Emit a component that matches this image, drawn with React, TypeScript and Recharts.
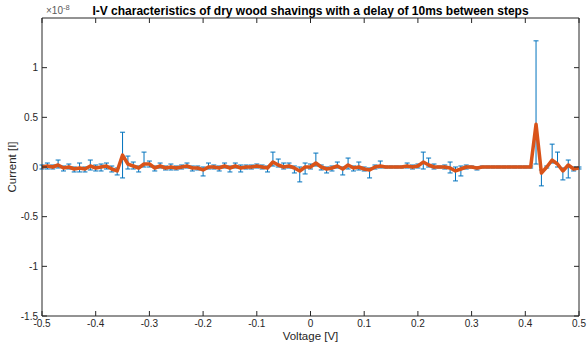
import React from 'react';
import { ComposedChart, Line, XAxis, YAxis, ErrorBar, ReferenceLine } from 'recharts';

// voltage steps [V]
const voltage = [
  -0.5, -0.49, -0.48, -0.47, -0.46, -0.45, -0.44, -0.43, -0.42, -0.41,
  -0.4, -0.39, -0.38, -0.37, -0.36, -0.35, -0.34, -0.33, -0.32, -0.31,
  -0.3, -0.29, -0.28, -0.27, -0.26, -0.25, -0.24, -0.23, -0.22, -0.21,
  -0.2, -0.19, -0.18, -0.17, -0.16, -0.15, -0.14, -0.13, -0.12, -0.11,
  -0.1, -0.09, -0.08, -0.07, -0.06, -0.05, -0.04, -0.03, -0.02, -0.01,
  0, 0.01, 0.02, 0.03, 0.04, 0.05, 0.06, 0.07, 0.08, 0.09,
  0.1, 0.11, 0.12, 0.13, 0.14, 0.15, 0.16, 0.17, 0.18, 0.19,
  0.2, 0.21, 0.22, 0.23, 0.24, 0.25, 0.26, 0.27, 0.28, 0.29,
  0.3, 0.31, 0.32, 0.33, 0.34, 0.35, 0.36, 0.37, 0.38, 0.39,
  0.4, 0.41, 0.42, 0.43, 0.44, 0.45, 0.46, 0.47, 0.48, 0.49,
  0.5,
];

// mean current, in units of 1e-8 A
const current = [
  0.0, 0.01, 0.0, 0.02, -0.01, 0.0, -0.02, -0.01, -0.02, 0.01,
  -0.01, 0.0, 0.01, -0.02, -0.04, 0.12, 0.03, 0.01, -0.01, 0.03,
  0.03, -0.01, 0.01, -0.01, 0.0, -0.01, 0.0, 0.01, -0.01, -0.01,
  -0.03, 0.0, 0.0, -0.01, 0.01, -0.01, 0.01, -0.01, 0.0, 0.0,
  0.01, 0.0, -0.01, 0.05, 0.02, 0.0, 0.01, -0.01, -0.04, 0.0,
  0.0, 0.04, 0.0, -0.02, -0.01, 0.01, -0.02, 0.02, -0.01, 0.0,
  -0.02, -0.03, 0.0, 0.01, 0.0, 0.0, 0.0, 0.0, 0.01, 0.0,
  0.01, 0.05, 0.02, 0.0, 0.0, 0.0, -0.01, -0.04, -0.02, 0.0,
  0.0, -0.01, 0.0, 0.0, 0.0, 0.0, 0.0, 0.0, 0.0, 0.0,
  0.0, 0.0, 0.43, -0.06, 0.0, 0.07, 0.03, -0.04, 0.02, -0.02,
  -0.01,
];

// error below the mean
const errLow = [
  0.02, 0.03, 0.02, 0.03, 0.03, 0.02, 0.03, 0.04, 0.03, 0.04,
  0.03, 0.04, 0.03, 0.03, 0.04, 0.23, 0.05, 0.03, 0.04, 0.03,
  0.03, 0.03, 0.02, 0.02, 0.03, 0.02, 0.02, 0.02, 0.03, 0.02,
  0.06, 0.02, 0.02, 0.03, 0.02, 0.04, 0.02, 0.04, 0.02, 0.02,
  0.02, 0.02, 0.04, 0.04, 0.02, 0.02, 0.02, 0.05, 0.11, 0.07,
  0.02, 0.03, 0.03, 0.04, 0.03, 0.02, 0.06, 0.04, 0.03, 0.03,
  0.02, 0.08, 0.02, 0.02, 0.01, 0.01, 0.01, 0.01, 0.02, 0.02,
  0.02, 0.07, 0.02, 0.02, 0.01, 0.02, 0.05, 0.1, 0.07, 0.02,
  0.01, 0.02, 0.01, 0.01, 0.01, 0.01, 0.01, 0.01, 0.01, 0.01,
  0.01, 0.01, 0.4, 0.13, 0.01, 0.03, 0.03, 0.09, 0.13, 0.02,
  0.01,
];

// error above the mean
const errHigh = [
  0.02, 0.03, 0.02, 0.05, 0.02, 0.03, 0.02, 0.05, 0.02, 0.06,
  0.03, 0.03, 0.03, 0.03, 0.03, 0.23, 0.08, 0.04, 0.02, 0.12,
  0.03, 0.02, 0.03, 0.02, 0.03, 0.02, 0.02, 0.03, 0.02, 0.02,
  0.03, 0.04, 0.02, 0.02, 0.03, 0.02, 0.03, 0.03, 0.02, 0.02,
  0.02, 0.02, 0.02, 0.1, 0.06, 0.04, 0.03, 0.02, 0.04, 0.04,
  0.03, 0.1, 0.02, 0.02, 0.02, 0.04, 0.02, 0.07, 0.02, 0.05,
  0.02, 0.02, 0.02, 0.05, 0.01, 0.01, 0.01, 0.01, 0.03, 0.02,
  0.02, 0.1, 0.07, 0.03, 0.01, 0.02, 0.06, 0.04, 0.03, 0.02,
  0.01, 0.01, 0.01, 0.01, 0.01, 0.01, 0.01, 0.01, 0.01, 0.01,
  0.01, 0.01, 0.84, 0.03, 0.01, 0.16, 0.12, 0.03, 0.05, 0.02,
  0.01,
];

const xTicks = [-0.5, -0.4, -0.3, -0.2, -0.1, 0, 0.1, 0.2, 0.3, 0.4, 0.5];
const yTicks = [-1.5, -1, -0.5, 0, 0.5, 1];

const W = 588;
const H = 343;
const PLOT_LEFT = 42;
const PLOT_RIGHT = 579;
const PLOT_TOP = 18;
const PLOT_BOTTOM = 316;
const TICK_LEN = 5;
const AXIS = '#262626';
const FONT = '"Liberation Sans", Arial, Helvetica, sans-serif';

const rows = voltage.map((v, i) => ({
  v,
  cur: current[i],
  err: [errLow[i], errHigh[i]],
}));

const BottomTick = ({ x, y, payload }: any) => (
  <g>
    <line x1={x} x2={x} y1={PLOT_BOTTOM} y2={PLOT_BOTTOM - TICK_LEN} stroke={AXIS} strokeWidth={1} />
    <line x1={x} x2={x} y1={PLOT_TOP} y2={PLOT_TOP + TICK_LEN} stroke={AXIS} strokeWidth={1} />
    <text x={x} y={y} dy="0.71em" textAnchor="middle" fontSize={10} fill={AXIS} fontFamily={FONT}>
      {payload.value}
    </text>
  </g>
);

const LeftTick = ({ x, y, payload }: any) => (
  <g>
    <line x1={PLOT_LEFT} x2={PLOT_LEFT + TICK_LEN} y1={y} y2={y} stroke={AXIS} strokeWidth={1} />
    <line x1={PLOT_RIGHT} x2={PLOT_RIGHT - TICK_LEN} y1={y} y2={y} stroke={AXIS} strokeWidth={1} />
    <text x={x} y={y} dy="0.35em" textAnchor="end" fontSize={10} fill={AXIS} fontFamily={FONT}>
      {payload.value}
    </text>
  </g>
);

export default function App() {
  return (
    <div style={{ position: 'absolute', left: 0, top: 0, width: W, height: H, background: '#fff', fontFamily: FONT }}>
      <div
        style={{
          position: 'absolute',
          left: PLOT_LEFT,
          width: PLOT_RIGHT - PLOT_LEFT,
          top: 4,
          textAlign: 'center',
          fontWeight: 'bold',
          fontSize: 12,
          color: '#000',
          whiteSpace: 'nowrap',
          lineHeight: '14px',
        }}
      >
        I-V characteristics of dry wood shavings with a delay of 10ms between steps
      </div>
      <div style={{ position: 'absolute', left: 46, top: 5, fontSize: 10, color: '#5a5a5a', lineHeight: '12px', whiteSpace: 'nowrap' }}>
        ×10<span style={{ fontSize: 7.5, position: 'relative', top: -4 }}>-8</span>
      </div>
      <ComposedChart width={W} height={H} data={rows} margin={{ top: PLOT_TOP, right: W - PLOT_RIGHT, bottom: 0, left: 0 }}>
        <XAxis
          dataKey="v"
          type="number"
          domain={[-0.5, 0.5]}
          ticks={xTicks}
          allowDataOverflow
          height={H - PLOT_BOTTOM}
          tickSize={0}
          tickMargin={4}
          tickLine={false}
          tick={<BottomTick />}
          axisLine={{ stroke: AXIS }}
          interval={0}
          label={{ value: 'Voltage [V]', position: 'insideBottom', offset: 3, fill: AXIS, fontSize: 11.5, fontFamily: FONT }}
        />
        <YAxis
          type="number"
          domain={[-1.5, 1.5]}
          ticks={yTicks}
          allowDataOverflow
          width={PLOT_LEFT}
          tickSize={0}
          tickMargin={4}
          tickLine={false}
          tick={<LeftTick />}
          axisLine={{ stroke: AXIS }}
          interval={0}
          label={{
            value: 'Current [I]',
            angle: -90,
            position: 'insideLeft',
            offset: 12,
            fill: AXIS,
            fontSize: 11.5,
            fontFamily: FONT,
            style: { textAnchor: 'middle' },
          }}
        />
        <ReferenceLine y={1.5} stroke={AXIS} strokeWidth={1} ifOverflow="extendDomain" />
        <ReferenceLine x={0.5} stroke={AXIS} strokeWidth={1} ifOverflow="extendDomain" />
        <Line
          dataKey="cur"
          type="linear"
          stroke="#0072BD"
          strokeWidth={1}
          dot={false}
          isAnimationActive={false}
        >
          <ErrorBar dataKey="err" width={2.5} stroke="#0072BD" strokeWidth={1} direction="y" isAnimationActive={false} />
        </Line>
        <Line
          dataKey="cur"
          type="linear"
          stroke="#D95319"
          strokeWidth={3.5}
          strokeLinejoin="round"
          dot={false}
          isAnimationActive={false}
        />
      </ComposedChart>
    </div>
  );
}
